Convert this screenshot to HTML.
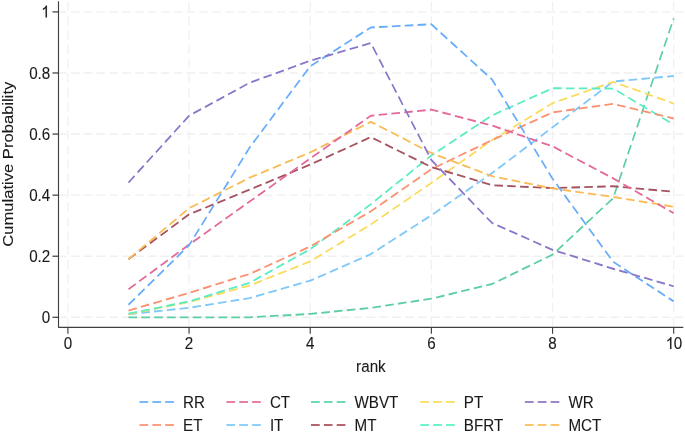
<!DOCTYPE html>
<html><head><meta charset="utf-8"><style>
html,body{margin:0;padding:0;background:#fff;overflow:hidden;}
svg{display:block;will-change:transform;}
.g{stroke:#f0f0f0;stroke-width:1.4;fill:none;}
.gh{stroke-dasharray:9.51 4.54;}
.gv{stroke-dasharray:9.2 5.15;}
.s{fill:none;stroke-width:2;stroke-dasharray:9.5 4.55;stroke-linejoin:round;}
.s2{fill:none;stroke-width:1.85;stroke-dasharray:9.6 4.75;stroke-linejoin:round;}
.ax{fill:none;stroke:#404040;stroke-width:1.25;stroke-linejoin:round;}
.tk{stroke:#404040;stroke-width:1.25;}
.g1{fill:#1a1a1a;stroke:#1a1a1a;stroke-width:0.1px;}
.t{font-family:"Liberation Sans",sans-serif;font-size:16.6px;fill:#1a1a1a;stroke:#1a1a1a;stroke-width:0.1px;}
</style></head><body>
<svg width="685" height="433" viewBox="0 0 748.63 433" preserveAspectRatio="none">
<rect width="749" height="433" fill="#fff"/>
<g>
<line x1="63.39" y1="317.30" x2="746.78" y2="317.30" class="g gh"/>
<line x1="63.39" y1="256.22" x2="746.78" y2="256.22" class="g gh"/>
<line x1="63.39" y1="195.14" x2="746.78" y2="195.14" class="g gh"/>
<line x1="63.39" y1="134.06" x2="746.78" y2="134.06" class="g gh"/>
<line x1="63.39" y1="72.98" x2="746.78" y2="72.98" class="g gh"/>
<line x1="63.39" y1="11.90" x2="746.78" y2="11.90" class="g gh"/>
<line x1="74.21" y1="1.7" x2="74.21" y2="327.3" class="g gv"/>
<line x1="206.62" y1="1.7" x2="206.62" y2="327.3" class="g gv"/>
<line x1="339.04" y1="1.7" x2="339.04" y2="327.3" class="g gv"/>
<line x1="471.45" y1="1.7" x2="471.45" y2="327.3" class="g gv"/>
<line x1="603.87" y1="1.7" x2="603.87" y2="327.3" class="g gv"/>
<line x1="736.28" y1="1.7" x2="736.28" y2="327.3" class="g gv"/>
<polyline points="143.39,317.30 211.00,317.30 278.62,317.30 346.23,313.94 413.84,307.83 481.45,298.67 549.06,284.01 616.67,254.69 684.29,198.19 751.90,18.31" stroke="#5ccfa2" class="s2" transform="scale(0.97923,1)"/>
<polyline points="143.39,314.25 211.00,307.83 278.62,298.06 346.23,280.65 413.84,254.08 481.45,215.30 549.06,173.15 616.67,127.34 684.29,81.53 751.90,76.03" stroke="#7fc8f8" class="s2" transform="scale(0.97923,1)"/>
<polyline points="143.39,314.25 211.00,302.03 278.62,285.54 346.23,261.41 413.84,224.46 481.45,182.92 549.06,140.17 616.67,103.21 684.29,81.84 751.90,103.52" stroke="#fbdb5c" class="s2" transform="scale(0.97923,1)"/>
<polyline points="143.39,313.64 211.00,301.42 278.62,282.79 346.23,249.20 413.84,204.30 481.45,155.44 549.06,115.43 616.67,88.25 684.29,88.56 751.90,124.59" stroke="#5cecc4" class="s2" transform="scale(0.97923,1)"/>
<polyline points="143.39,310.58 211.00,292.87 278.62,273.93 346.23,246.45 413.84,211.33 481.45,169.18 549.06,140.17 616.67,112.38 684.29,103.83 751.90,118.48" stroke="#fa9070" class="s2" transform="scale(0.97923,1)"/>
<polyline points="143.39,259.27 211.00,214.38 278.62,189.64 346.23,164.60 413.84,137.11 481.45,167.04 549.06,185.21 616.67,188.12 684.29,186.28 751.90,191.78" stroke="#a6525f" class="s2" transform="scale(0.97923,1)"/>
<polyline points="143.39,259.27 211.00,208.27 278.62,177.73 346.23,152.38 413.84,121.84 481.45,152.99 549.06,176.21 616.67,188.42 684.29,196.97 751.90,206.75" stroke="#fabb54" class="s2" transform="scale(0.97923,1)"/>
<polyline points="143.39,289.20 211.00,244.61 278.62,201.55 346.23,158.49 413.84,115.74 481.45,109.63 549.06,125.51 616.67,146.28 684.29,178.34 751.90,213.16" stroke="#e2699a" class="s2" transform="scale(0.97923,1)"/>
<polyline points="143.39,304.78 211.00,245.23 278.62,147.50 346.23,66.26 413.84,27.48 481.45,24.27 549.06,79.39 616.67,178.65 684.29,261.72 751.90,301.42" stroke="#66acfa" class="s2" transform="scale(0.97923,1)"/>
<polyline points="143.39,182.62 211.00,115.74 278.62,82.75 346.23,60.76 413.84,43.05 481.45,160.02 549.06,222.93 616.67,249.81 684.29,268.74 751.90,286.30" stroke="#8a76c8" class="s2" transform="scale(0.97923,1)"/>
<path d="M63.93,1.2 V327.3 H746.78" class="ax"/>
<line x1="57.38" y1="317.30" x2="63.93" y2="317.30" class="tk"/>
<text x="54.97" y="322.90" text-anchor="end" class="t">0</text>
<line x1="57.38" y1="256.22" x2="63.93" y2="256.22" class="tk"/>
<text x="54.97" y="261.82" text-anchor="end" class="t">0.2</text>
<line x1="57.38" y1="195.14" x2="63.93" y2="195.14" class="tk"/>
<text x="54.97" y="200.74" text-anchor="end" class="t">0.4</text>
<line x1="57.38" y1="134.06" x2="63.93" y2="134.06" class="tk"/>
<text x="54.97" y="139.66" text-anchor="end" class="t">0.6</text>
<line x1="57.38" y1="72.98" x2="63.93" y2="72.98" class="tk"/>
<text x="54.97" y="78.58" text-anchor="end" class="t">0.8</text>
<line x1="57.38" y1="11.90" x2="63.93" y2="11.90" class="tk"/>
<path d="M51.27,17.50 L49.81,17.50 L49.81,8.20 C49.46,8.54 49.00,8.87 48.43,9.20 C47.86,9.53 47.35,9.78 46.90,9.95 L46.90,8.54 C47.72,8.16 48.43,7.69 49.04,7.15 C49.65,6.61 50.08,6.08 50.33,5.57 L51.27,5.57 Z" class="g1"/>
<line x1="74.21" y1="327.3" x2="74.21" y2="333.8" class="tk"/>
<text x="74.21" y="349" text-anchor="middle" class="t">0</text>
<line x1="206.62" y1="327.3" x2="206.62" y2="333.8" class="tk"/>
<text x="206.62" y="349" text-anchor="middle" class="t">2</text>
<line x1="339.04" y1="327.3" x2="339.04" y2="333.8" class="tk"/>
<text x="339.04" y="349" text-anchor="middle" class="t">4</text>
<line x1="471.45" y1="327.3" x2="471.45" y2="333.8" class="tk"/>
<text x="471.45" y="349" text-anchor="middle" class="t">6</text>
<line x1="603.87" y1="327.3" x2="603.87" y2="333.8" class="tk"/>
<text x="603.87" y="349" text-anchor="middle" class="t">8</text>
<line x1="736.28" y1="327.3" x2="736.28" y2="333.8" class="tk"/>
<path d="M733.78,349.00 L732.32,349.00 L732.32,339.70 C731.98,340.04 731.51,340.37 730.95,340.70 C730.38,341.03 729.87,341.28 729.41,341.45 L729.41,340.04 C730.23,339.66 730.95,339.19 731.55,338.65 C732.16,338.11 732.59,337.58 732.84,337.07 L733.78,337.07 Z" class="g1"/>
<text x="736.28" y="349" class="t">0</text>
<text x="405.36" y="372" text-anchor="middle" class="t">rank</text>
<text transform="translate(14.10,164.2) rotate(-90)" text-anchor="middle" class="t">Cumulative Probability</text>
<line x1="152.46" y1="402" x2="190.16" y2="402" stroke="#7ab8fa" class="s"/>
<text x="200.00" y="408" class="t">RR</text>
<line x1="247.43" y1="402" x2="285.14" y2="402" stroke="#e87ea6" class="s"/>
<text x="294.97" y="408" class="t">CT</text>
<line x1="339.89" y1="402" x2="377.60" y2="402" stroke="#6fdbb4" class="s"/>
<text x="387.43" y="408" class="t">WBVT</text>
<line x1="459.34" y1="402" x2="497.05" y2="402" stroke="#fce16a" class="s"/>
<text x="506.89" y="408" class="t">PT</text>
<line x1="573.66" y1="402" x2="611.37" y2="402" stroke="#9b87c9" class="s"/>
<text x="621.20" y="408" class="t">WR</text>
<line x1="152.46" y1="425" x2="190.16" y2="425" stroke="#fc9e80" class="s"/>
<text x="200.00" y="431" class="t">ET</text>
<line x1="247.43" y1="425" x2="285.14" y2="425" stroke="#8fd0fa" class="s"/>
<text x="294.97" y="431" class="t">IT</text>
<line x1="339.89" y1="425" x2="377.60" y2="425" stroke="#b5656f" class="s"/>
<text x="387.43" y="431" class="t">MT</text>
<line x1="459.34" y1="425" x2="497.05" y2="425" stroke="#6ef4cd" class="s"/>
<text x="506.89" y="431" class="t">BFRT</text>
<line x1="573.66" y1="425" x2="611.37" y2="425" stroke="#fbc66a" class="s"/>
<text x="621.20" y="431" class="t">MCT</text>
</g>
</svg>
</body></html>
